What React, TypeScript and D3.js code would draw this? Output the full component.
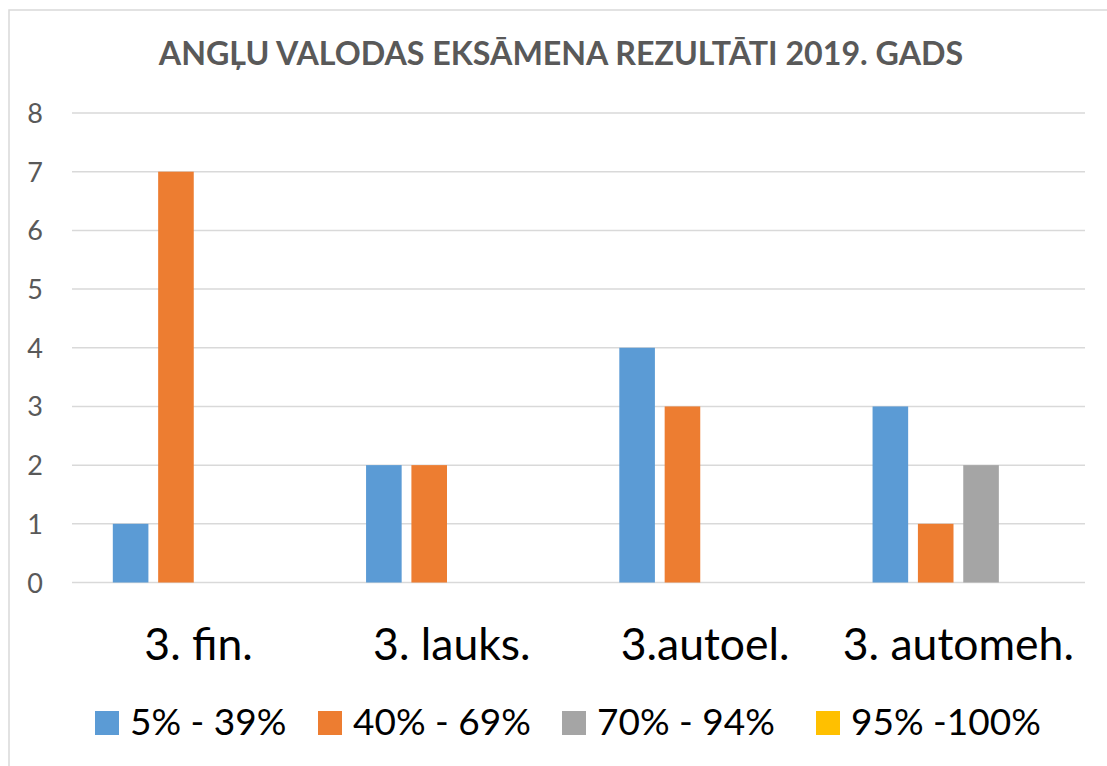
import React from "react";
import * as d3 from "d3";

const categories = ["3. fin.", "3. lauks.", "3.autoel.", "3. automeh."];
const seriesNames = ["5% - 39%", "40% - 69%", "70% - 94%", "95% -100%"];
const seriesColors = ["#5B9BD5", "#ED7D31", "#A5A5A5", "#FFC000"];
const s1 = [1, 2, 4, 3];
const s2 = [7, 2, 3, 1];
const s3 = [0, 0, 0, 2];
const s4 = [0, 0, 0, 0];
const yTicks = [0, 1, 2, 3, 4, 5, 6, 7, 8];
const title = "ANGĻU VALODAS EKSĀMENA REZULTĀTI 2019. GADS";

const W = 1107;
const H = 766;
const FONT = "Lato, 'Open Sans', sans-serif";

export default function App() {
  const values = [s1, s2, s3, s4];
  const x0 = d3.scaleBand<string>().domain(categories).range([72, 1085]).paddingInner(0).paddingOuter(0);
  const x1 = d3
    .scaleBand<string>()
    .domain(seriesNames)
    .range([0, x0.bandwidth()])
    .paddingInner(0.215)
    .paddingOuter(0.9);
  const y = d3.scaleLinear().domain([0, 8]).range([582.5, 113]);

  const legendX = [95, 318, 562, 816];

  return (
    <svg width={W} height={H} style={{ position: "absolute", left: 0, top: 0, display: "block" }}>
      <rect x={0} y={0} width={W} height={H} fill="#fff" />
      <rect x={9} y={10} width={W + 20} height={H + 20} fill="#fff" stroke="#D9D9D9" strokeWidth={1.5} />
      <text x={561} y={65} textAnchor="middle" fontFamily={FONT} fontWeight="bold" fontSize={32.2} fill="#595959">
        {title}
      </text>
      {yTicks.map((t) => (
        <g key={t}>
          <line x1={72} x2={1085} y1={y(t)} y2={y(t)} stroke="#D9D9D9" strokeWidth={1.5} />
          <text x={35} y={y(t) + 10} textAnchor="middle" fontFamily={FONT} fontSize={27} fill="#595959">
            {t}
          </text>
        </g>
      ))}
      {categories.map((c, ci) => (
        <g key={c} transform={`translate(${x0(c)},0)`}>
          {seriesNames.map((s, si) => {
            const v = values[si][ci];
            if (!v) return null;
            return (
              <rect
                key={s}
                x={x1(s)}
                y={y(v)}
                width={x1.bandwidth()}
                height={y(0) - y(v)}
                fill={seriesColors[si]}
              />
            );
          })}
          <text
            x={x0.bandwidth() / 2}
            y={660}
            textAnchor="middle"
            fontFamily={FONT}
            fontSize={44.5}
            fill="#000"
          >
            {c}
          </text>
        </g>
      ))}
      {seriesNames.map((s, si) => (
        <g key={s}>
          <rect x={legendX[si]} y={711} width={24} height={24} fill={seriesColors[si]} />
          <text x={legendX[si] + 35} y={735} fontFamily={FONT} fontSize={37} fill="#000">
            {s}
          </text>
        </g>
      ))}
    </svg>
  );
}
